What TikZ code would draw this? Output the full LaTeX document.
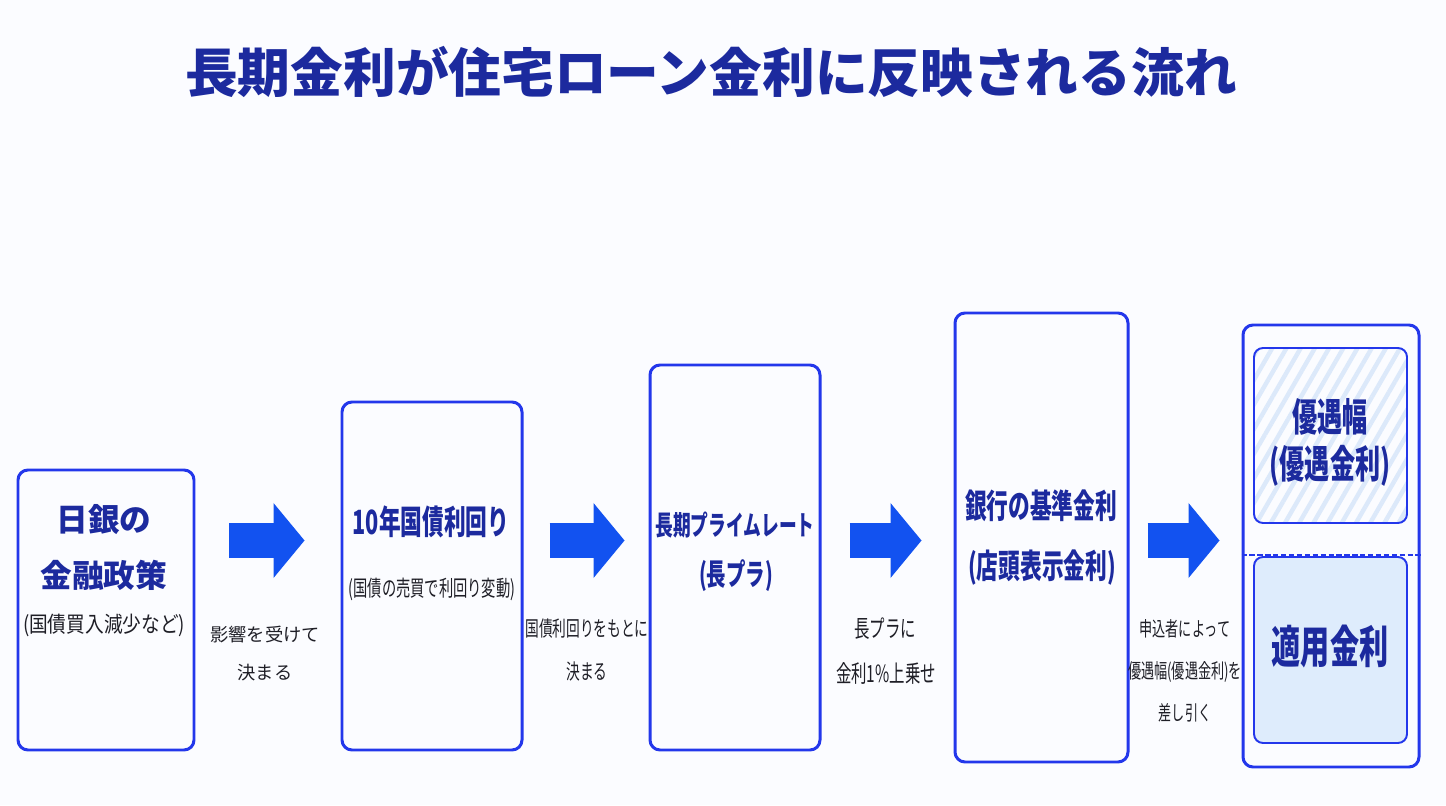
\documentclass[tikz,border=0pt]{standalone}
\usepackage{fontspec}
\usepackage{tikz}
\usetikzlibrary{positioning, arrows.meta, calc, patterns.meta}
\newfontfamily\jpfont{Noto Sans CJK JP}
\newfontfamily\jpnarrow[FakeStretch=0.65]{Noto Sans CJK JP}
\newfontfamily\jpmid[FakeStretch=0.85]{Noto Sans CJK JP}
\newcommand{\fsize}[1]{\fontsize{#1}{#1}\selectfont}
\definecolor{navy2}{RGB}{28,42,158}
\definecolor{boun2}{RGB}{35,55,235}
\definecolor{arrow2}{RGB}{18,82,240}
\definecolor{lightblue2}{RGB}{222,236,252}
\definecolor{stripe2}{RGB}{220,233,250}
\definecolor{text2}{RGB}{30,30,38}
\definecolor{paper2}{RGB}{251,252,255}

\tikzset{
  flowbox/.style={draw=boun2, line width=1.7pt, rounded corners=0.2cm, inner sep=0},
  innerbox/.style={draw=boun2, line width=1.1pt, rounded corners=0.18cm, inner sep=0, minimum width=3.06cm},
  bigarrow/.style={arrow2, line width=0.7cm, -{Triangle[length=0.62cm, width=1.5cm, line width=0pt]}},
  boxtext/.style={navy2, font=\jpnarrow\bfseries, inner sep=0},
  notetext/.style={text2, font=\jpnarrow, inner sep=0}
}

\begin{document}
\begin{tikzpicture}[]
    \fill[paper2] (0,0) rectangle (28.92cm,16.10cm);
    \useasboundingbox (0,0) rectangle (28.92cm,16.10cm);

    \node[navy2, font=\jpfont\bfseries, inner sep=0] (title) at (14.22cm,14.66cm) {\fsize{30pt}長期金利が住宅ローン金利に反映される流れ};

    % the five stages
    \node[flowbox, minimum width=3.52cm, minimum height=5.60cm] (boj) at (2.12cm,3.90cm) {};
    \node[flowbox, minimum width=3.60cm, minimum height=6.96cm] (jgb) at (8.64cm,4.58cm) {};
    \node[flowbox, minimum width=3.40cm, minimum height=7.70cm] (prime) at (14.70cm,4.95cm) {};
    \node[flowbox, minimum width=3.46cm, minimum height=8.98cm] (base) at (20.83cm,5.35cm) {};
    \node[flowbox, minimum width=3.52cm, minimum height=8.84cm] (applied) at (26.62cm,5.18cm) {};

    \node[innerbox, minimum height=3.50cm, pattern={Lines[angle=60, distance=7pt, line width=2.5pt]}, pattern color=stripe2] (margin) at (26.61cm,7.39cm) {};
    \node[innerbox, minimum height=3.72cm, fill=lightblue2] (rate) at (26.61cm,3.10cm) {};
    \coordinate (split) at (26.62cm,5.00cm);
    \draw[boun2, line width=1.1pt, dash pattern=on 3pt off 1.5pt] (applied.west |- split) -- (applied.east |- split);

    % arrows
    \coordinate (mid) at (0,5.29cm);
    \foreach \from/\to/\a/\b in {boj/jgb/0.68/0.72, jgb/prime/0.52/0.48, prime/base/0.56/0.64, base/applied/0.36/0.44} {
        \draw[bigarrow, shorten <=\a cm, shorten >=\b cm] (\from.east |- mid) -- (\to.west |- mid);
    }

    % texts in the boxes
    \node[boxtext, font=\jpfont\bfseries] (bojA) at (2.08cm,5.70cm) {\fsize{18pt}日銀の};
    \node[boxtext, font=\jpfont\bfseries] (bojB) at (2.08cm,4.60cm) {\fsize{18pt}金融政策};
    \node[notetext, font=\jpmid] (bojC) at (2.08cm,3.60cm) {\fsize{12.5pt}(国債買入減少など)};

    \node[boxtext] (jgbA) at (8.62cm,5.66cm) {\fsize{19pt}10年国債利回り};
    \node[notetext] (jgbB) at (8.64cm,4.32cm) {\fsize{12.5pt}(国債の売買で利回り変動)};

    \node[boxtext] (primeA) at (14.70cm,5.60cm) {\fsize{15.5pt}長期プライムレート};
    \node[boxtext] (primeB) at (14.72cm,4.58cm) {\fsize{17pt}(長プラ)};

    \node[boxtext] (baseA) at (20.82cm,5.98cm) {\fsize{19pt}銀行の基準金利};
    \node[boxtext] (baseB) at (20.84cm,4.74cm) {\fsize{19pt}(店頭表示金利)};

    \node[boxtext] (marginA) at (26.60cm,7.76cm) {\fsize{22pt}優遇幅};
    \node[boxtext] (marginB) at (26.60cm,6.78cm) {\fsize{22pt}(優遇金利)};
    \node[boxtext] (rateA) at (26.60cm,3.16cm) {\fsize{25.5pt}適用金利};

    % texts under the arrows
    \node[notetext, font=\jpfont] (noteA1) at (5.30cm,3.40cm) {\fsize{10.4pt}影響を受けて};
    \node[notetext, font=\jpfont] (noteA2) at (5.30cm,2.64cm) {\fsize{10.4pt}決まる};
    \node[notetext] (noteB1) at (11.74cm,3.52cm) {\fsize{12pt}国債利回りをもとに};
    \node[notetext] (noteB2) at (11.74cm,2.66cm) {\fsize{12pt}決まる};
    \node[notetext] (noteC1) at (17.70cm,3.52cm) {\fsize{13.5pt}長プラに};
    \node[notetext] (noteC2) at (17.72cm,2.64cm) {\fsize{13.5pt}金利1\%上乗せ};
    \node[notetext] (noteD1) at (23.70cm,3.52cm) {\fsize{11.5pt}申込者によって};
    \node[notetext] (noteD2) at (23.70cm,2.66cm) {\fsize{11.5pt}優遇幅(優遇金利)を};
    \node[notetext] (noteD3) at (23.70cm,1.84cm) {\fsize{11.5pt}差し引く};
\end{tikzpicture}
\end{document}
